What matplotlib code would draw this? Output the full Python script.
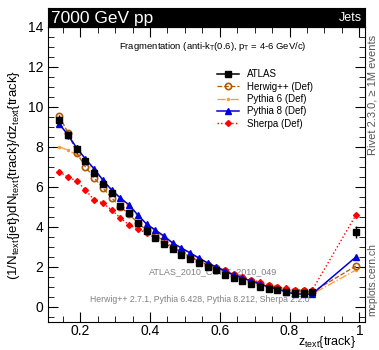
import numpy as np
import matplotlib.pyplot as plt
from matplotlib.ticker import MultipleLocator
from matplotlib.lines import Line2D

plt.rcParams['font.family'] = ['Liberation Sans', 'DejaVu Sans']
plt.rcParams['mathtext.fontset'] = 'custom'
plt.rcParams['mathtext.rm'] = 'Liberation Sans'
plt.rcParams['mathtext.it'] = 'Liberation Sans'

z = [0.14, 0.165, 0.19, 0.215, 0.24, 0.265, 0.29, 0.315, 0.34, 0.365,
     0.39, 0.415, 0.44, 0.465, 0.49, 0.515, 0.54, 0.565, 0.59, 0.615,
     0.64, 0.665, 0.69, 0.715, 0.74, 0.765, 0.79, 0.815, 0.84, 0.865, 0.99]

atlas = [9.35, 8.6, 7.9, 7.3, 6.7, 6.15, 5.7, 5.05, 4.7, 4.2,
         3.8, 3.45, 3.15, 2.9, 2.6, 2.4, 2.2, 2.0, 1.85, 1.6,
         1.45, 1.3, 1.15, 1.0, 0.9, 0.85, 0.75, 0.7, 0.7, 0.75, 3.75]
atlas_err = [0.25, 0.2, 0.2, 0.15, 0.15, 0.12, 0.12, 0.1, 0.1, 0.1,
             0.08, 0.08, 0.08, 0.07, 0.07, 0.06, 0.06, 0.06, 0.05, 0.05,
             0.05, 0.05, 0.05, 0.05, 0.05, 0.05, 0.05, 0.05, 0.05, 0.05, 0.3]

herwig = [9.55, 8.7, 7.7, 7.0, 6.45, 5.95, 5.45, 5.0, 4.65, 4.2,
          3.85, 3.6, 3.3, 3.0, 2.75, 2.5, 2.3, 2.1, 1.95, 1.8,
          1.6, 1.45, 1.3, 1.15, 1.05, 0.95, 0.85, 0.8, 0.8, 0.75, 2.05]

pythia6 = [8.0, 7.85, 7.6, 7.2, 6.85, 6.3, 5.85, 5.4, 5.0, 4.55,
           4.15, 3.8, 3.5, 3.2, 2.95, 2.7, 2.45, 2.2, 2.0, 1.8,
           1.6, 1.45, 1.3, 1.15, 1.0, 0.9, 0.8, 0.7, 0.65, 0.65, 1.85]

pythia8 = [9.15, 8.6, 7.95, 7.4, 6.9, 6.35, 5.85, 5.45, 5.1, 4.6,
           4.15, 3.85, 3.55, 3.2, 2.95, 2.7, 2.45, 2.2, 2.0, 1.8,
           1.6, 1.45, 1.3, 1.15, 1.0, 0.9, 0.75, 0.65, 0.65, 0.65, 2.5]

sherpa = [6.75, 6.5, 6.3, 5.85, 5.35, 5.2, 4.85, 4.45, 4.1, 3.9,
          3.7, 3.45, 3.2, 2.95, 2.75, 2.5, 2.3, 2.1, 1.95, 1.85,
          1.65, 1.5, 1.35, 1.25, 1.1, 1.0, 0.95, 0.85, 0.85, 0.85, 4.6]

fig = plt.figure(figsize=(3.79, 3.5), dpi=100)
ax = fig.add_axes([0.127, 0.08, 0.836, 0.843])

p6, = ax.plot(z, pythia6, color='#ff9933', ls='-.', lw=0.9, marker='o', ms=1.5,
              zorder=2)
hw, = ax.plot(z, herwig, color='#b35900', ls='--', lw=0.9, marker='o', ms=4.5,
              mfc='none', mew=1.2, zorder=3)
sh, = ax.plot(z, sherpa, color='red', ls=':', lw=1.0, marker='D', ms=3,
              zorder=4)
p8, = ax.plot(z, pythia8, color='#0000dd', ls='-', lw=1.1, marker='^', ms=4.5,
              zorder=5)
ax.errorbar(z, atlas, yerr=atlas_err, color='black', ls='none', marker='s',
            ms=4.5, elinewidth=1, zorder=6)
at = Line2D([], [], color='black', lw=1.1, marker='s', ms=4.5)

ax.set_xlim(0.108, 1.016)
ax.set_ylim(-0.75, 14)
ax.xaxis.set_major_locator(MultipleLocator(0.2))
ax.xaxis.set_minor_locator(MultipleLocator(0.05))
ax.yaxis.set_major_locator(MultipleLocator(2))
ax.yaxis.set_minor_locator(MultipleLocator(0.5))
ax.tick_params(which='both', direction='in', top=True, right=True, labelsize=10)
ax.tick_params(which='major', length=7)
ax.tick_params(which='minor', length=4)
ax.tick_params(axis='x', pad=1.5)
ax.set_xticks([0.2, 0.4, 0.6, 0.8, 1.0])
ax.set_xticklabels(['0.2', '0.4', '0.6', '0.8', '1'])

ax.set_ylabel(r'(1/N$_{\mathrm{text}}${jet})dN$_{\mathrm{text}}${track}/dz$_{\mathrm{text}}${track}',
              fontsize=9.5, labelpad=4)
ax.set_xlabel(r'z$_{\mathrm{text}}${track}', fontsize=9, ha='right', va='center')
ax.xaxis.set_label_coords(0.972, -0.068)

ax.legend([at, hw, p6, p8, sh],
          ['ATLAS', 'Herwig++ (Def)', 'Pythia 6 (Def)', 'Pythia 8 (Def)', 'Sherpa (Def)'],
          loc='upper left', bbox_to_anchor=(0.51, 0.88), frameon=False,
          fontsize=7, handlelength=2.3, labelspacing=0.25, borderpad=0.2)

ax.text(0.52, 0.935, r'Fragmentation (anti-k$_\mathrm{T}$(0.6), p$_\mathrm{T}$ = 4-6 GeV/c)',
        transform=ax.transAxes, ha='center', va='center', fontsize=6.8)
ax.text(0.52, 0.17, 'ATLAS_2010_CONF_2010_049', transform=ax.transAxes,
        ha='center', va='center', fontsize=6.5, color='#808080')
ax.text(0.48, 0.075, 'Herwig++ 2.7.1, Pythia 6.428, Pythia 8.212, Sherpa 2.2.0',
        transform=ax.transAxes, ha='center', va='center', fontsize=6.2, color='#808080')

# black header bar
bar = fig.add_axes([0.127, 0.923, 0.836, 0.054])
bar.set_facecolor('black')
bar.set_xticks([])
bar.set_yticks([])
bar.text(0.01, 0.45, '7000 GeV pp', color='white', fontsize=12.5,
         ha='left', va='center', transform=bar.transAxes)
bar.text(0.99, 0.45, 'Jets', color='white', fontsize=9,
         ha='right', va='center', transform=bar.transAxes)

fig.text(0.982, 0.73, 'Rivet 2.3.0, \u2265 1M events', rotation=90,
         ha='center', va='center', fontsize=8, color='#555555')
fig.text(0.982, 0.2, 'mcplots.cern.ch', rotation=90,
         ha='center', va='center', fontsize=7.5, color='#555555')

fig.savefig('out.png', dpi=100)
